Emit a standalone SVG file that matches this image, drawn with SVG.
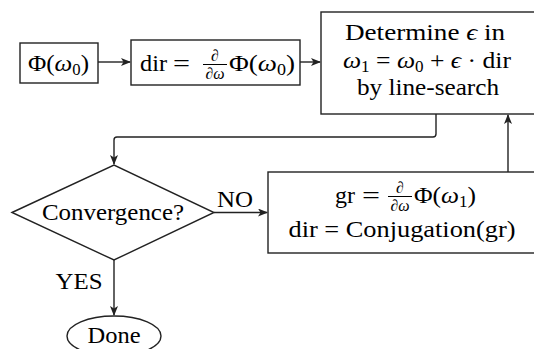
<svg xmlns="http://www.w3.org/2000/svg" width="534" height="349" viewBox="0 0 534 349">
<style>
.t{font-family:"Liberation Serif","DejaVu Serif",serif;font-size:24px;fill:#000}
.i{font-style:italic}
.s{font-size:16px}
.f{font-family:"Liberation Serif","DejaVu Serif",serif;font-size:16px;fill:#000;font-style:italic}
.box{fill:#fff;stroke:#222;stroke-width:1.4}
.c{fill:none;stroke:#222;stroke-width:1.4}
.bar{stroke:#000;stroke-width:1}
</style>
<defs>
<marker id="ah" viewBox="0 0 10 8" refX="9" refY="4" markerWidth="10" markerHeight="8" markerUnits="userSpaceOnUse" orient="auto">
<path d="M0,0 L10,4 L0,8 L2.5,4 z" fill="#222"/>
</marker>
</defs>

<g id="connectors">
<path class="c" d="M98,62 H130" marker-end="url(#ah)"/>
<path class="c" d="M300,62 H320" marker-end="url(#ah)"/>
<path class="c" d="M436,114 V134 Q436,137 433,137 H117 Q114,137 114,140 V164" marker-end="url(#ah)"/>
<path class="c" d="M508,172 V115" marker-end="url(#ah)"/>
<path class="c" d="M214,212.5 H267" marker-end="url(#ah)"/>
<path class="c" d="M114,260 V315" marker-end="url(#ah)"/>
<text class="t" x="235" y="207" text-anchor="middle" textLength="36" lengthAdjust="spacingAndGlyphs">NO</text>
<text class="t" x="79" y="289" text-anchor="middle" textLength="47" lengthAdjust="spacingAndGlyphs">YES</text>
</g>

<g id="n-phi0">
<rect class="box" x="20" y="43" width="78" height="40"/>
<text class="t" x="28" y="71" textLength="61" lengthAdjust="spacingAndGlyphs">Φ(<tspan class="i">ω</tspan><tspan class="s" dy="4">0</tspan><tspan dy="-4">)</tspan></text>
</g>

<g id="n-dir">
<rect class="box" x="131" y="40" width="169" height="45"/>
<text class="t" x="140" y="71" textLength="27" lengthAdjust="spacingAndGlyphs">dir</text>
<text class="t" x="173" y="71" textLength="17" lengthAdjust="spacingAndGlyphs">=</text>
<text class="f" x="215" y="60.5" text-anchor="middle">∂</text>
<line class="bar" x1="203" y1="64.5" x2="227" y2="64.5"/>
<text class="f" x="215" y="78.5" text-anchor="middle">∂ω</text>
<text class="t" x="229" y="71" textLength="66" lengthAdjust="spacingAndGlyphs">Φ(<tspan class="i">ω</tspan><tspan class="s" dy="4">0</tspan><tspan dy="-4">)</tspan></text>
</g>

<g id="n-linesearch">
<rect class="box" x="321" y="12" width="240" height="102"/>
<text class="t" x="425" y="40" text-anchor="middle" textLength="160" lengthAdjust="spacingAndGlyphs">Determine <tspan class="i">ϵ</tspan> in</text>
<text class="t" x="427" y="68" text-anchor="middle" textLength="168" lengthAdjust="spacingAndGlyphs"><tspan class="i">ω</tspan><tspan class="s" dy="4">1</tspan><tspan dy="-4"> = </tspan><tspan class="i">ω</tspan><tspan class="s" dy="4">0</tspan><tspan dy="-4"> + </tspan><tspan class="i">ϵ</tspan> · dir</text>
<text class="t" x="428" y="95" text-anchor="middle" textLength="142" lengthAdjust="spacingAndGlyphs">by line-search</text>
</g>

<g id="n-convergence">
<polygon class="box" points="12,212.5 114,165 214,212.5 114,260"/>
<text class="t" x="113" y="220" text-anchor="middle" textLength="142" lengthAdjust="spacingAndGlyphs">Convergence?</text>
</g>

<g id="n-gradient">
<rect class="box" x="268" y="172" width="280" height="81"/>
<text class="t" x="335" y="203" textLength="20" lengthAdjust="spacingAndGlyphs">gr</text>
<text class="t" x="362" y="203" textLength="18" lengthAdjust="spacingAndGlyphs">=</text>
<text class="f" x="400" y="192.5" text-anchor="middle">∂</text>
<line class="bar" x1="388" y1="196.5" x2="412" y2="196.5"/>
<text class="f" x="400" y="210.5" text-anchor="middle">∂ω</text>
<text class="t" x="414" y="203" textLength="62" lengthAdjust="spacingAndGlyphs">Φ(<tspan class="i">ω</tspan><tspan class="s" dy="4">1</tspan><tspan dy="-4">)</tspan></text>
<text class="t" x="402" y="237" text-anchor="middle" textLength="227" lengthAdjust="spacingAndGlyphs">dir = Conjugation(gr)</text>
</g>

<g id="n-done">
<ellipse class="box" cx="114" cy="336" rx="47" ry="20"/>
<text class="t" x="114" y="343" text-anchor="middle" textLength="53" lengthAdjust="spacingAndGlyphs">Done</text>
</g>
</svg>
